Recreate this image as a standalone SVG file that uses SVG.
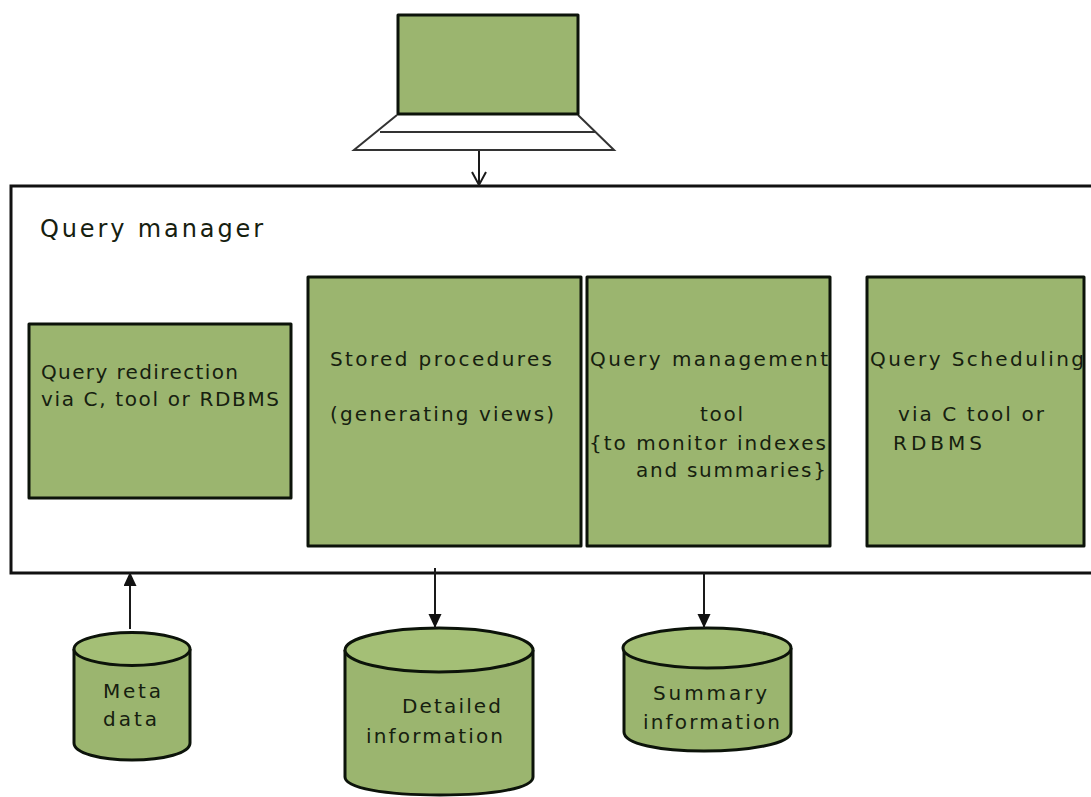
<svg xmlns="http://www.w3.org/2000/svg" width="1091" height="797" viewBox="0 0 1091 797">
<style>
.g{fill:#9bb56f;stroke:#0c130a;stroke-width:3;stroke-linejoin:round}
.t{fill:#a4bf76;stroke:#0c130a;stroke-width:3}
.l{fill:none;stroke:#1a1a1a;stroke-width:2}
text{font-family:"DejaVu Sans",sans-serif;font-size:20px;fill:#16200f}
</style>
<defs>
<marker id="solid" markerWidth="14" markerHeight="16" refX="14" refY="6.5" orient="auto" markerUnits="userSpaceOnUse"><path d="M0,0L14,6.5L0,13z" fill="#111"/></marker>
</defs>
<rect width="1091" height="797" fill="#fff"/>
<g id="laptop">
<path d="M397,115L354,150H614L578,115" fill="#fff" stroke="#333" stroke-width="2"/>
<path d="M380,132H596" stroke="#333" stroke-width="2" fill="none"/>
<rect x="398" y="15" width="180" height="99" class="g"/>
</g>
<g id="query-manager">
<path d="M1091,186H11V573H1091" fill="#fff" stroke="#111" stroke-width="3"/>
<text x="40" y="237" style="font-size:24px" textLength="223">Query manager</text>
</g>
<g id="query-redirection">
<rect x="29" y="324" width="262" height="174" class="g"/>
<text x="41" y="379" textLength="197">Query redirection</text>
<text x="41" y="406" textLength="238">via  C, tool or RDBMS</text>
</g>
<g id="stored-procedures">
<rect x="308" y="277" width="273" height="269" class="g"/>
<text x="330" y="366" textLength="222">Stored procedures</text>
<text x="330" y="421" textLength="224">(generating views)</text>
</g>
<g id="query-management">
<rect x="587" y="277" width="243" height="269" class="g"/>
<text x="590" y="366" textLength="238">Query management</text>
<text x="700" y="421" textLength="43">tool</text>
<text x="589" y="450" textLength="237">{to monitor indexes</text>
<text x="636" y="477" textLength="190">and summaries}</text>
</g>
<g id="query-scheduling">
<rect x="867" y="277" width="217" height="269" class="g"/>
<text x="870" y="366" textLength="214">Query Scheduling</text>
<text x="898" y="421" textLength="146">via C tool or</text>
<text x="893" y="450" textLength="89">RDBMS</text>
</g>
<g id="meta-data">
<path d="M74,649V743C74,753 100,760 132,760S190,753 190,743V649" class="g"/>
<ellipse cx="132" cy="649" rx="58" ry="16.500" class="t"/>
<text x="103" y="698" textLength="58">Meta</text>
<text x="103" y="726" textLength="54">data</text>
</g>
<g id="detailed-information">
<path d="M345,650V777C345,788 385,795 440,795S533,788 533,777V650" class="g"/>
<ellipse cx="439" cy="650" rx="94" ry="22" class="t"/>
<text x="402" y="713" textLength="99">Detailed</text>
<text x="366" y="743" textLength="137">information</text>
</g>
<g id="summary-information">
<path d="M624,648V732C624,744 660,751 704,751S791,744 791,732V648" class="g"/>
<ellipse cx="707" cy="648" rx="84" ry="20" class="t"/>
<text x="653" y="700" textLength="114">Summary</text>
<text x="643" y="729" textLength="137">information</text>
</g>
<g id="connectors">
<path d="M479,151V184" class="l"/>
<path d="M472,172L479,185L486,172" class="l"/>
<path d="M130,629V572" class="l" marker-end="url(#solid)"/>
<path d="M435,568V628" class="l" marker-end="url(#solid)"/>
<path d="M704,573V628" class="l" marker-end="url(#solid)"/>
</g>
</svg>
